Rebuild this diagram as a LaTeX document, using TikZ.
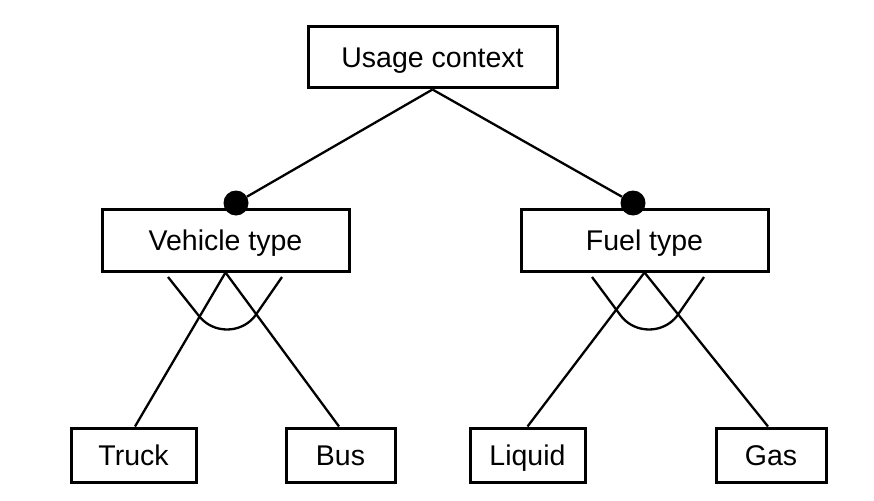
\documentclass[tikz,border=0pt]{standalone}
\usepackage{fontspec}
\setmainfont{Liberation Sans}
\begin{document}
\begin{tikzpicture}[x=1pt,y=-1pt,
  box/.style={draw=black, line width=3pt, fill=white, inner sep=0pt, align=center,
    font=\fontsize{28.5}{32}\selectfont, text height=21pt, text depth=0pt},
  conn/.style={line width=2.3pt, black},
  dot/.style={circle, fill=black, inner sep=0pt, minimum size=25pt}]
\useasboundingbox (0,0) rectangle (874,500);
\fill[white] (0,0) rectangle (874,500);
% group arcs
\coordinate (va1) at (168,277); \coordinate (va2) at (282,277);
\coordinate (fa1) at (592,277); \coordinate (fa2) at (704,277);
\draw[conn, line join=round] (va1) -- (199,316) .. controls (213,334) and (241,334) .. (255,316) -- (va2);
\draw[conn, line join=round] (fa1) -- (621,316) .. controls (635,334) and (663,334) .. (677,316) -- (fa2);
% nodes
\node[box, minimum width=249pt, minimum height=61pt] (usage) at (432.5,57.5) {Usage context};
\node[box, minimum width=247pt, minimum height=62pt] (vehicle) at (225.5,240) {Vehicle type};
\node[box, minimum width=247pt, minimum height=62pt] (fuel) at (644.5,240) {Fuel type};
\node[box, minimum width=125pt, minimum height=54pt] (truck) at (133.5,455) {Truck};
\node[box, minimum width=109pt, minimum height=54pt] (bus) at (340.5,455) {Bus};
\node[box, minimum width=115pt, minimum height=54pt] (liquid) at (527.5,455) {Liquid};
\node[box, minimum width=110pt, minimum height=54pt] (gas) at (771,455) {Gas};
% connectors
\node[dot] (vdot) at (236,203) {};
\node[dot] (fdot) at (633,203) {};
\draw[conn] (usage.south) -- (vdot);
\draw[conn] (usage.south) -- (fdot);
\draw[conn] (vehicle.south) -- ([xshift=1.5pt]truck.north);
\draw[conn] (vehicle.south) -- ([xshift=-1.5pt]bus.north);
\draw[conn] (fuel.south) -- (liquid.north);
\draw[conn] (fuel.south) -- ([xshift=-3pt]gas.north);
\end{tikzpicture}
\end{document}
